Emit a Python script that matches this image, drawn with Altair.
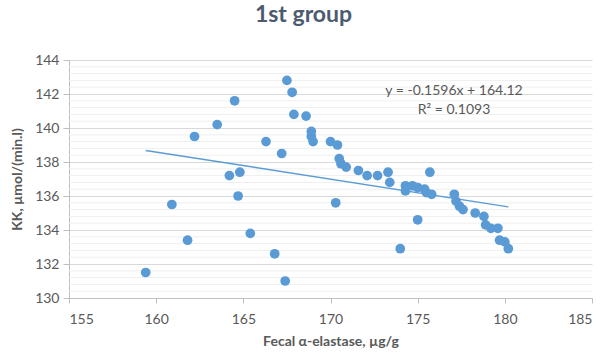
import altair as alt
import pandas as pd
import numpy as np

# Data
elastase = [159.4, 160.9, 161.8, 162.2, 163.5, 164.2, 164.5, 164.7, 164.8, 165.4,
            166.3, 166.8, 167.2, 167.4, 167.5, 167.8, 167.9, 168.6, 168.9, 168.9,
            169.0, 170.0, 170.3, 170.4, 170.5, 170.6, 170.9, 171.6, 172.1, 172.7,
            173.3, 173.4, 174.0, 174.3, 174.3, 174.7, 175.0, 175.0, 175.4, 175.5,
            175.7, 175.8, 177.1, 177.2, 177.4, 177.6, 178.3, 178.8, 178.9, 179.2,
            179.6, 179.7, 180.0, 180.2]
kk = [131.5, 135.5, 133.4, 139.5, 140.2, 137.2, 141.6, 136.0, 137.4, 133.8,
      139.2, 132.6, 138.5, 131.0, 142.8, 142.1, 140.8, 140.7, 139.8, 139.5,
      139.2, 139.2, 135.6, 139.0, 138.2, 137.9, 137.7, 137.5, 137.2, 137.2,
      137.4, 136.8, 132.9, 136.6, 136.3, 136.6, 136.5, 134.6, 136.4, 136.2,
      137.4, 136.1, 136.1, 135.7, 135.4, 135.2, 135.0, 134.8, 134.3, 134.1,
      134.1, 133.4, 133.3, 132.9]
slope = -0.1596
intercept = 164.12
r2 = 0.1093

x_domain = [155, 185]
y_domain = [130, 144]

FONT = "Lato"
TXT = "#595959"
BLUE = "#5B9BD5"

pts = pd.DataFrame({"x": elastase, "y": kk})
xs = [min(elastase), max(elastase)]
trend = pd.DataFrame({"x": xs, "y": [slope * v + intercept for v in xs]})
minor = pd.DataFrame({"y": [round(v, 1) for v in np.arange(y_domain[0], y_domain[1] + 0.001, 0.4)
                            if abs(round(v, 1) % 2) > 1e-6]})

xscale = alt.Scale(domain=x_domain, nice=False, zero=False)
yscale = alt.Scale(domain=y_domain, nice=False, zero=False)

xaxis = alt.Axis(title="Fecal α-elastase, µg/g", values=list(range(155, 186, 5)),
                 grid=False, domainColor="#bfbfbf", tickColor="#bfbfbf", tickSize=5,
                 labelFont=FONT, labelFontSize=14, labelColor=TXT, labelPadding=9,
                 titleFont=FONT, titleFontSize=14, titleColor=TXT, titleFontWeight="bold",
                 titlePadding=8)
yaxis = alt.Axis(title="KK, µmol/(min.l)", values=list(range(130, 145, 2)),
                 grid=True, gridColor="#d9d9d9", domainColor="#bfbfbf", tickColor="#bfbfbf",
                 tickSize=6, labelFont=FONT, labelFontSize=14, labelColor=TXT, labelPadding=4,
                 titleFont=FONT, titleFontSize=14, titleColor=TXT, titleFontWeight="bold",
                 titlePadding=10)

minor_layer = alt.Chart(minor).mark_rule(color="#efefef", strokeWidth=1).encode(
    y=alt.Y("y:Q", scale=yscale, axis=yaxis)
)

points = alt.Chart(pts).mark_circle(size=95, color=BLUE, opacity=1).encode(
    x=alt.X("x:Q", scale=xscale, axis=xaxis),
    y=alt.Y("y:Q", scale=yscale, axis=yaxis),
)

line = alt.Chart(trend).mark_line(color=BLUE, strokeWidth=1.5).encode(
    x=alt.X("x:Q", scale=xscale, axis=xaxis),
    y=alt.Y("y:Q", scale=yscale, axis=yaxis),
)

eq_text = pd.DataFrame({"t": [f"y = {slope}x + {intercept}", f"R² = {r2}"],
                        "py": [31, 50]})
labels = alt.Chart(eq_text).mark_text(font=FONT, fontSize=14, color=TXT, align="center",
                                       baseline="middle").encode(
    x=alt.value(385), y=alt.Y("py:Q", scale=None), text="t:N"
)

chart = alt.layer(minor_layer, points, line, labels).properties(
    width=523, height=238,
    title=alt.TitleParams("1st group", font=FONT, fontSize=23, fontWeight="bold",
                          color="#4d5b6e", anchor="middle", dx=-27, offset=26),
    autosize=alt.AutoSizeParams(type="none"),
    padding={"left": 69, "top": 60, "right": 14, "bottom": 55},
).configure_view(stroke=None)

chart.save("out.html", embed_options={"renderer": "svg", "actions": False})
